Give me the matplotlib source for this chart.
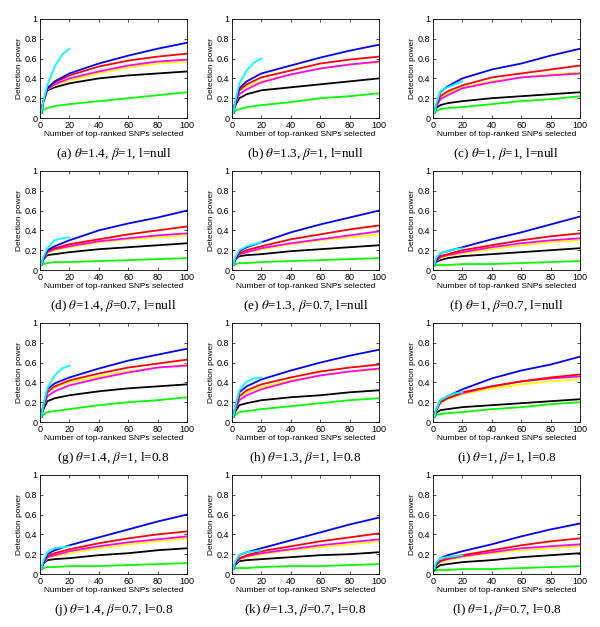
import matplotlib
matplotlib.use('Agg')
import matplotlib.pyplot as plt

plt.rcParams['mathtext.fontset'] = 'stix'

W, H = 600, 627

xs = [1, 2, 5, 10, 20, 40, 60, 80, 100]
xs_cyan = [1, 2, 5, 10, 15, 20]

captions = [
    r'(a) $\theta$=1.4, $\beta$=1, l=null',
    r'(b) $\theta$=1.3, $\beta$=1, l=null',
    r'(c) $\theta$=1, $\beta$=1, l=null',
    r'(d) $\theta$=1.4, $\beta$=0.7, l=null',
    r'(e) $\theta$=1.3, $\beta$=0.7, l=null',
    r'(f) $\theta$=1, $\beta$=0.7, l=null',
    r'(g) $\theta$=1.4, $\beta$=1, l=0.8',
    r'(h) $\theta$=1.3, $\beta$=1, l=0.8',
    r'(i) $\theta$=1, $\beta$=1, l=0.8',
    r'(j) $\theta$=1.4, $\beta$=0.7, l=0.8',
    r'(k) $\theta$=1.3, $\beta$=0.7, l=0.8',
    r'(l) $\theta$=1, $\beta$=0.7, l=0.8',
]

blue = [
    [0.05, 0.15, 0.30, 0.37, 0.45, 0.55, 0.63, 0.70, 0.76],
    [0.05, 0.15, 0.30, 0.37, 0.45, 0.53, 0.61, 0.68, 0.74],
    [0.05, 0.12, 0.26, 0.32, 0.40, 0.49, 0.55, 0.63, 0.70],
    [0.05, 0.10, 0.20, 0.24, 0.30, 0.40, 0.47, 0.53, 0.60],
    [0.05, 0.10, 0.19, 0.23, 0.28, 0.38, 0.46, 0.53, 0.60],
    [0.05, 0.10, 0.17, 0.19, 0.23, 0.31, 0.38, 0.46, 0.54],
    [0.05, 0.15, 0.33, 0.39, 0.45, 0.54, 0.62, 0.68, 0.74],
    [0.05, 0.14, 0.30, 0.36, 0.43, 0.52, 0.60, 0.67, 0.73],
    [0.05, 0.12, 0.22, 0.26, 0.33, 0.44, 0.52, 0.58, 0.66],
    [0.05, 0.10, 0.20, 0.24, 0.29, 0.37, 0.45, 0.53, 0.60],
    [0.05, 0.10, 0.19, 0.22, 0.26, 0.34, 0.42, 0.50, 0.57],
    [0.05, 0.10, 0.16, 0.19, 0.23, 0.30, 0.38, 0.45, 0.51],
]
red = [
    [0.05, 0.15, 0.30, 0.36, 0.43, 0.52, 0.58, 0.62, 0.65],
    [0.05, 0.15, 0.28, 0.34, 0.41, 0.48, 0.55, 0.59, 0.62],
    [0.05, 0.12, 0.22, 0.27, 0.33, 0.41, 0.45, 0.49, 0.53],
    [0.05, 0.10, 0.19, 0.22, 0.26, 0.31, 0.36, 0.40, 0.44],
    [0.05, 0.10, 0.17, 0.20, 0.24, 0.31, 0.36, 0.41, 0.45],
    [0.05, 0.09, 0.14, 0.16, 0.20, 0.25, 0.30, 0.34, 0.37],
    [0.05, 0.15, 0.30, 0.36, 0.42, 0.49, 0.55, 0.59, 0.63],
    [0.05, 0.13, 0.26, 0.32, 0.38, 0.45, 0.51, 0.55, 0.58],
    [0.05, 0.11, 0.20, 0.24, 0.30, 0.36, 0.41, 0.45, 0.48],
    [0.05, 0.10, 0.18, 0.21, 0.25, 0.31, 0.36, 0.40, 0.43],
    [0.05, 0.10, 0.16, 0.19, 0.23, 0.28, 0.33, 0.37, 0.41],
    [0.05, 0.09, 0.13, 0.16, 0.19, 0.24, 0.29, 0.33, 0.36],
]
magenta = [
    [0.05, 0.15, 0.29, 0.34, 0.40, 0.47, 0.53, 0.57, 0.59],
    [0.05, 0.14, 0.24, 0.29, 0.36, 0.44, 0.50, 0.54, 0.57],
    [0.05, 0.11, 0.19, 0.23, 0.30, 0.36, 0.41, 0.43, 0.45],
    [0.05, 0.10, 0.18, 0.21, 0.24, 0.29, 0.32, 0.35, 0.37],
    [0.05, 0.10, 0.16, 0.18, 0.22, 0.27, 0.31, 0.35, 0.39],
    [0.05, 0.09, 0.13, 0.15, 0.18, 0.23, 0.27, 0.30, 0.32],
    [0.05, 0.14, 0.26, 0.31, 0.37, 0.44, 0.50, 0.55, 0.57],
    [0.05, 0.12, 0.22, 0.27, 0.33, 0.41, 0.47, 0.51, 0.54],
    [0.05, 0.11, 0.20, 0.24, 0.29, 0.36, 0.41, 0.44, 0.46],
    [0.05, 0.10, 0.17, 0.19, 0.23, 0.28, 0.32, 0.35, 0.38],
    [0.05, 0.10, 0.15, 0.18, 0.21, 0.25, 0.29, 0.32, 0.35],
    [0.05, 0.09, 0.13, 0.15, 0.18, 0.22, 0.26, 0.28, 0.30],
]
yellow = [
    [0.05, 0.15, 0.29, 0.33, 0.38, 0.45, 0.51, 0.55, 0.57],
    [0.05, 0.15, 0.27, 0.32, 0.37, 0.44, 0.50, 0.54, 0.56],
    [0.05, 0.12, 0.21, 0.25, 0.31, 0.37, 0.41, 0.44, 0.46],
    [0.05, 0.10, 0.17, 0.20, 0.23, 0.28, 0.31, 0.33, 0.35],
    [0.05, 0.10, 0.16, 0.18, 0.21, 0.26, 0.30, 0.33, 0.36],
    [0.05, 0.09, 0.12, 0.14, 0.17, 0.21, 0.25, 0.28, 0.30],
    [0.05, 0.15, 0.30, 0.35, 0.40, 0.46, 0.51, 0.55, 0.58],
    [0.05, 0.13, 0.25, 0.30, 0.35, 0.42, 0.47, 0.51, 0.53],
    [0.05, 0.11, 0.19, 0.23, 0.28, 0.34, 0.38, 0.41, 0.43],
    [0.05, 0.10, 0.16, 0.18, 0.21, 0.26, 0.30, 0.33, 0.36],
    [0.05, 0.10, 0.15, 0.17, 0.20, 0.24, 0.27, 0.30, 0.33],
    [0.05, 0.09, 0.12, 0.14, 0.17, 0.21, 0.24, 0.26, 0.28],
]
black = [
    [0.05, 0.15, 0.28, 0.31, 0.35, 0.40, 0.43, 0.45, 0.47],
    [0.05, 0.12, 0.20, 0.24, 0.28, 0.31, 0.34, 0.37, 0.40],
    [0.05, 0.10, 0.13, 0.15, 0.17, 0.20, 0.22, 0.24, 0.26],
    [0.05, 0.10, 0.15, 0.16, 0.18, 0.21, 0.23, 0.25, 0.27],
    [0.05, 0.10, 0.14, 0.15, 0.16, 0.19, 0.21, 0.23, 0.25],
    [0.05, 0.08, 0.10, 0.12, 0.14, 0.16, 0.18, 0.20, 0.22],
    [0.05, 0.12, 0.21, 0.24, 0.27, 0.31, 0.34, 0.36, 0.38],
    [0.05, 0.10, 0.17, 0.19, 0.22, 0.25, 0.27, 0.30, 0.32],
    [0.05, 0.09, 0.12, 0.13, 0.15, 0.17, 0.19, 0.21, 0.23],
    [0.05, 0.10, 0.14, 0.15, 0.16, 0.19, 0.21, 0.24, 0.26],
    [0.05, 0.09, 0.13, 0.14, 0.15, 0.17, 0.19, 0.20, 0.22],
    [0.04, 0.06, 0.09, 0.10, 0.12, 0.14, 0.17, 0.19, 0.21],
]
green = [
    [0.05, 0.08, 0.10, 0.12, 0.14, 0.17, 0.20, 0.23, 0.26],
    [0.05, 0.07, 0.09, 0.11, 0.13, 0.16, 0.20, 0.22, 0.25],
    [0.05, 0.07, 0.09, 0.10, 0.11, 0.14, 0.17, 0.19, 0.22],
    [0.05, 0.06, 0.07, 0.08, 0.08, 0.09, 0.10, 0.11, 0.12],
    [0.05, 0.06, 0.07, 0.07, 0.08, 0.09, 0.10, 0.11, 0.12],
    [0.04, 0.05, 0.05, 0.05, 0.06, 0.06, 0.07, 0.08, 0.09],
    [0.05, 0.07, 0.10, 0.11, 0.13, 0.17, 0.20, 0.22, 0.25],
    [0.05, 0.07, 0.10, 0.11, 0.13, 0.16, 0.19, 0.22, 0.24],
    [0.05, 0.07, 0.08, 0.09, 0.10, 0.13, 0.15, 0.18, 0.20],
    [0.05, 0.06, 0.07, 0.07, 0.08, 0.08, 0.09, 0.10, 0.11],
    [0.05, 0.06, 0.06, 0.06, 0.07, 0.08, 0.08, 0.09, 0.10],
    [0.03, 0.04, 0.04, 0.04, 0.05, 0.05, 0.06, 0.07, 0.08],
]
cyan = [
    [0.05, 0.15, 0.33, 0.52, 0.64, 0.70],
    [0.05, 0.15, 0.35, 0.48, 0.56, 0.60],
    [0.05, 0.13, 0.27, 0.31, 0.34, 0.37],
    [0.05, 0.12, 0.22, 0.30, 0.32, 0.33],
    [0.05, 0.12, 0.20, 0.24, 0.26, 0.28],
    [0.05, 0.12, 0.17, 0.19, 0.21, 0.22],
    [0.05, 0.15, 0.34, 0.47, 0.54, 0.57],
    [0.05, 0.14, 0.32, 0.41, 0.44, 0.45],
    [0.05, 0.12, 0.22, 0.26, 0.29, 0.30],
    [0.05, 0.12, 0.22, 0.26, 0.27, 0.28],
    [0.05, 0.12, 0.19, 0.22, 0.23, 0.24],
    [0.05, 0.11, 0.16, 0.17, 0.18, 0.19],
]

series = [(green, '#00ff00'), (black, '#000000'), (yellow, '#ffff00'),
          (magenta, '#ff00ff'), (red, '#ff0000'), (blue, '#0000ff')]

# panel placement in pixels
lefts = [40, 232, 433]
tops = [19, 171, 323, 475]
pw, ph = 147, 99

fig = plt.figure(figsize=(W / 100, H / 100), dpi=100)

for i in range(12):
    r, c = divmod(i, 3)
    l, t = lefts[c], tops[r]
    ax = fig.add_axes([l / W, 1 - (t + ph) / H, pw / W, ph / H])
    for vals, col in series:
        ax.plot(xs, vals[i], color=col, lw=1.3)
    ax.plot(xs_cyan, cyan[i], color='#00ffff', lw=1.3)
    ax.set_xlim(0, 100)
    ax.set_ylim(0, 1)
    ax.set_xticks([0, 20, 40, 60, 80, 100])
    ax.set_yticks([0, 0.2, 0.4, 0.6, 0.8, 1])
    ax.set_yticklabels(['0', '0.2', '0.4', '0.6', '0.8', '1'])
    ax.tick_params(direction='in', length=2, width=0.5, labelsize=6.5,
                   pad=2, top=True, right=True)
    for lab in ax.get_xticklabels() + ax.get_yticklabels():
        lab.set_family('Liberation Sans')
    for s in ax.spines.values():
        s.set_linewidth(0.6)
    ax.set_xlabel('Number of top-ranked SNPs selected', fontsize=6,
                  family='Liberation Sans', labelpad=1)
    ax.set_ylabel('Detection power', fontsize=6, family='Liberation Sans',
                  labelpad=1)
    fig.text((l + pw / 2) / W, 1 - (t + ph + 36) / H, captions[i],
             ha='center', va='center', fontsize=9.5,
             family='Liberation Serif')

fig.savefig('out.png', dpi=100)
